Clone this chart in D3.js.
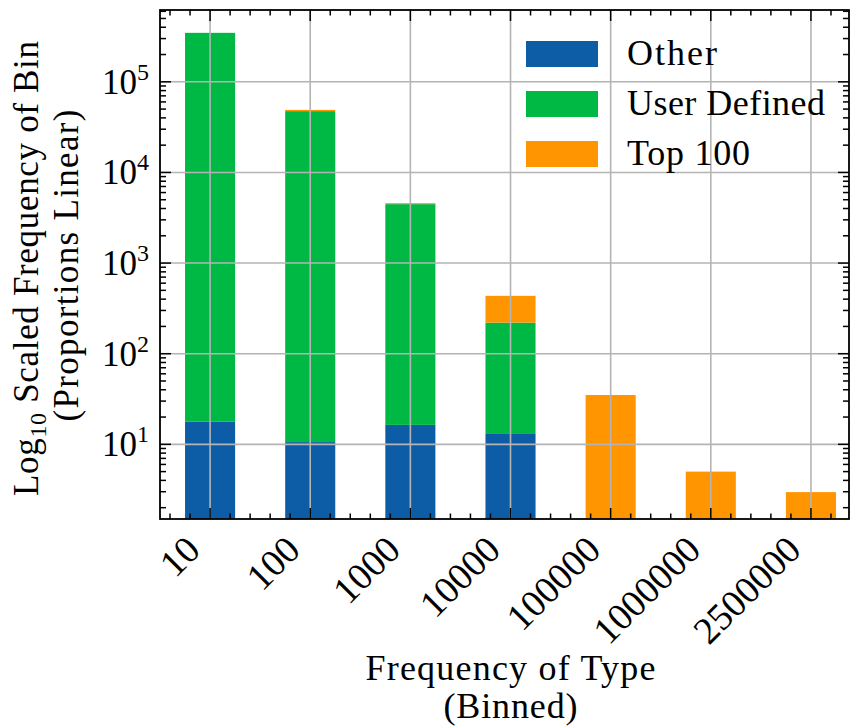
<!DOCTYPE html>
<html>
<head>
<meta charset="utf-8">
<script src="https://cdn.jsdelivr.net/npm/d3@7"></script>
<style>
  body { margin: 0; background: #fff; }
  svg { display: block; font-family: "Liberation Serif", "DejaVu Serif", serif; }
</style>
</head>
<body>
<div id="chart"></div>
<script>
// bins on the x axis
const categories = ['10', '100', '1000', '10000', '100000', '1000000', '2500000'];
// total bar height (log scaled)
const totals = [3.47e5, 4.9e4, 4.58e3, 435, 35, 5.0, 2.97];
// share of each bar, stacked linearly inside the bar
const otherShare = [0.200, 0.188, 0.298, 0.381, 0, 0, 0];
const userDefinedShare = [0.800, 0.809, 0.699, 0.499, 0, 0, 0];
const top100Share = [0, 0.003, 0.003, 0.120, 1, 1, 1];
const seriesNames = ['Other', 'User Defined', 'Top 100'];
const yTickValues = [1e1, 1e2, 1e3, 1e4, 1e5];
const yTickExp = ['1', '2', '3', '4', '5'];

const colors = ['#0C5DA5', '#00B945', '#FF9500'];
const width = 851, height = 727;
const plot = { left: 160, right: 849, top: 10, bottom: 519 };

const svg = d3.select('#chart').append('svg')
  .attr('width', width)
  .attr('height', height);

const x = d3.scaleLinear().domain([-0.5, 6.38]).range([plot.left, plot.right]);
const y = d3.scaleLog().domain([1.5, 6.2e5]).range([plot.bottom, plot.top]);
const barW = x(0.5) - x(0);

const shares = [otherShare, userDefinedShare, top100Share];

// bars: total height on the log scale, parts split linearly in that height
const bars = svg.append('g');
categories.forEach((c, i) => {
  const top = y(totals[i]);
  const full = plot.bottom - top;
  let base = plot.bottom;
  shares.forEach((s, k) => {
    const h = full * s[i];
    if (h <= 0) return;
    bars.append('rect')
      .attr('x', x(i) - barW / 2)
      .attr('width', barW)
      .attr('y', base - h)
      .attr('height', h)
      .attr('fill', colors[k]);
    base -= h;
  });
});

// grid over the bars
const grid = svg.append('g')
  .attr('stroke', '#b4b4b4')
  .attr('stroke-width', 1.6);
categories.forEach((c, i) => {
  grid.append('line')
    .attr('x1', x(i)).attr('x2', x(i))
    .attr('y1', plot.top).attr('y2', plot.bottom);
});
yTickValues.forEach(v => {
  grid.append('line')
    .attr('x1', plot.left).attr('x2', plot.right)
    .attr('y1', y(v)).attr('y2', y(v));
});

// ticks pointing inward on all four sides
const ticks = svg.append('g')
  .attr('stroke', '#000')
  .attr('stroke-width', 1.5);
const xMinor = d3.range(-0.4, 6.39, 0.2).filter(v => Math.abs(v - Math.round(v)) > 0.01);
categories.forEach((c, i) => {
  ticks.append('line').attr('x1', x(i)).attr('x2', x(i))
    .attr('y1', plot.bottom).attr('y2', plot.bottom - 11);
  ticks.append('line').attr('x1', x(i)).attr('x2', x(i))
    .attr('y1', plot.top).attr('y2', plot.top + 11);
});
xMinor.forEach(v => {
  ticks.append('line').attr('x1', x(v)).attr('x2', x(v))
    .attr('y1', plot.bottom).attr('y2', plot.bottom - 5.5);
  ticks.append('line').attr('x1', x(v)).attr('x2', x(v))
    .attr('y1', plot.top).attr('y2', plot.top + 5.5);
});

const [y0, y1] = y.domain();
const yMinor = [];
for (let e = 0; e <= 5; e++) {
  for (let m = 2; m <= 9; m++) {
    const v = m * Math.pow(10, e);
    if (v > y0 && v < y1) yMinor.push(v);
  }
}
yTickValues.forEach(v => {
  ticks.append('line').attr('x1', plot.left).attr('x2', plot.left + 11)
    .attr('y1', y(v)).attr('y2', y(v));
  ticks.append('line').attr('x1', plot.right).attr('x2', plot.right - 11)
    .attr('y1', y(v)).attr('y2', y(v));
});
yMinor.forEach(v => {
  ticks.append('line').attr('x1', plot.left).attr('x2', plot.left + 6)
    .attr('y1', y(v)).attr('y2', y(v));
  ticks.append('line').attr('x1', plot.right).attr('x2', plot.right - 6)
    .attr('y1', y(v)).attr('y2', y(v));
});

// frame
svg.append('rect')
  .attr('x', plot.left).attr('y', plot.top)
  .attr('width', plot.right - plot.left)
  .attr('height', plot.bottom - plot.top)
  .attr('fill', 'none')
  .attr('stroke', '#000')
  .attr('stroke-width', 1.8);

// x tick labels, rotated
categories.forEach((c, i) => {
  svg.append('text')
    .attr('transform', `translate(${x(i) - 8},${plot.bottom + 33}) rotate(-45)`)
    .attr('text-anchor', 'end')
    .attr('font-size', 38)
    .text(c);
});

// y tick labels 10^n
yTickValues.forEach((v, i) => {
  const t = svg.append('text')
    .attr('x', 149)
    .attr('y', y(v) + 12)
    .attr('text-anchor', 'end')
    .attr('font-size', 35);
  t.append('tspan').text('10');
  t.append('tspan').attr('font-size', 24).attr('dy', -14).text(yTickExp[i]);
});

// axis titles
const xMid = (plot.left + plot.right) / 2 + 6;
svg.append('text')
  .attr('x', xMid).attr('y', 680)
  .attr('text-anchor', 'middle')
  .attr('font-size', 36)
  .attr('textLength', 290)
  .text('Frequency of Type');
svg.append('text')
  .attr('x', xMid).attr('y', 718)
  .attr('text-anchor', 'middle')
  .attr('font-size', 36)
  .attr('textLength', 134)
  .text('(Binned)');

const yMid = (plot.top + plot.bottom) / 2;
const yt = svg.append('text')
  .attr('transform', `translate(38,${yMid + 4}) rotate(-90)`)
  .attr('text-anchor', 'middle')
  .attr('font-size', 35)
  .attr('textLength', 455);
yt.append('tspan').text('Log');
yt.append('tspan').attr('font-size', 24).attr('dy', 8).text('10');
yt.append('tspan').attr('dy', -8).text(' Scaled Frequency of Bin');
svg.append('text')
  .attr('transform', `translate(78,${yMid + 1}) rotate(-90)`)
  .attr('text-anchor', 'middle')
  .attr('font-size', 35)
  .attr('textLength', 312)
  .text('(Proportions Linear)');

// legend
const legend = svg.append('g');
const legendWidths = [90, 198, 123];
seriesNames.forEach((name, k) => {
  const ly = 41 + k * 50;
  legend.append('rect')
    .attr('x', 526).attr('y', ly)
    .attr('width', 72).attr('height', 26)
    .attr('fill', colors[k]);
  legend.append('text')
    .attr('x', 627).attr('y', ly + 24)
    .attr('font-size', 36)
    .attr('textLength', legendWidths[k])
    .text(name);
});
</script>
</body>
</html>
